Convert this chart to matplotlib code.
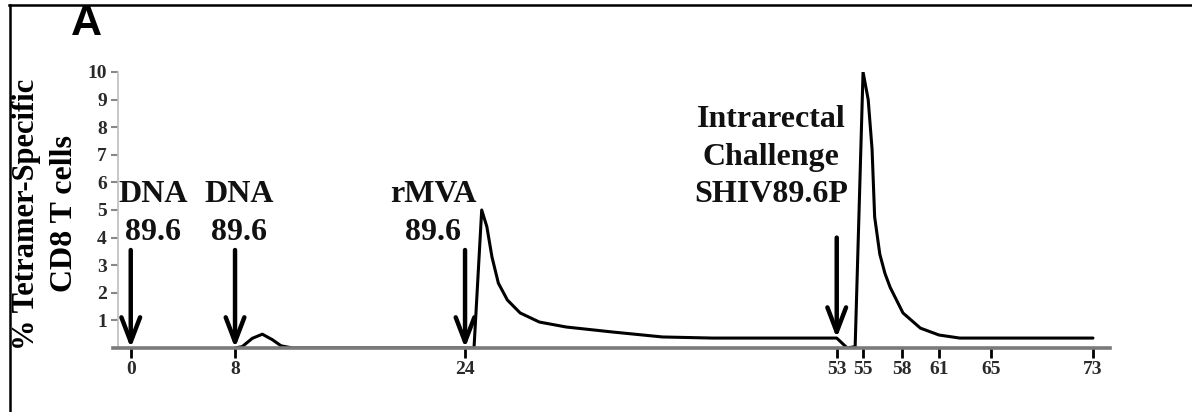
import numpy as np
import matplotlib
matplotlib.use("Agg")
import matplotlib.pyplot as plt
from matplotlib.lines import Line2D

plt.rcParams['font.family'] = ['Liberation Serif', 'DejaVu Serif']
plt.rcParams['font.weight'] = 'bold'

# % tetramer-specific CD8 T cells by week
weeks = [8, 8.5, 9.2, 9.9, 10.6, 11.2, 12, 24, 24.7, 25.0, 25.3, 25.7, 26.1, 26.6,
         27.3, 28.3, 29.8, 31.9, 35.5, 39.4, 43.3, 53, 53.8, 54.4, 54.7, 55, 55.4,
         55.7, 55.9, 56.3, 56.7, 57.1, 58.1, 59.5, 61, 62.6, 73]
tetramer = [0, 0.05, 0.35, 0.5, 0.3, 0.08, 0, 0, 0, 2.5, 5.0, 4.4, 3.3, 2.35,
            1.74, 1.27, 0.94, 0.76, 0.58, 0.40, 0.36, 0.36, 0, 0.05, 5, 10, 9.0,
            7.2, 4.75, 3.4, 2.7, 2.2, 1.27, 0.72, 0.47, 0.36, 0.36]

# immunisations / challenge
event_weeks = [0, 8, 24, 53]
event_labels = ['DNA\n89.6', 'DNA\n89.6', 'rMVA\n89.6', 'Intrarectal\nChallenge\nSHIV89.6P']

xtick_weeks = [0, 8, 24, 53, 55, 58, 61, 65, 73]
ytick_vals = [1, 2, 3, 4, 5, 6, 7, 8, 9, 10]

# hand-drawn time axis: where each labelled week sits along the axis (0..1)
scale_weeks = [-100, 0, 8, 24, 53, 55, 58, 61, 65, 73, 200]
scale_pos = [-1.289, 0.0178, 0.1224, 0.3531, 0.7259, 0.7523, 0.7911, 0.8285,
             0.8804, 0.9829, 2.639]


def fwd(x):
    return np.interp(x, scale_weeks, scale_pos)


def inv(u):
    return np.interp(u, scale_pos, scale_weeks)


fig = plt.figure(figsize=(11.92, 4.12), dpi=100)
ax = fig.add_axes([113 / 1192, 64 / 412, 997 / 1192, 276 / 412])
ax.set_xscale('function', functions=(fwd, inv))
ax.set_xlim(inv(0.0), inv(1.0))
ax.set_ylim(0, 10)

ax.plot(weeks, tetramer, color='black', lw=2.2, zorder=2,
        solid_joinstyle='round', solid_capstyle='round')

# arrows for each event
arrow_top = [3.55, 3.55, 3.55, 4.0]
arrow_tip = [0.0, 0.0, 0.0, 0.36]
for w, y0, y1 in zip(event_weeks, arrow_top, arrow_tip):
    ax.annotate('', xy=(w, y1), xytext=(w, y0),
                arrowprops=dict(arrowstyle='->, head_length=1.1, head_width=0.42',
                                lw=3.2, color='black', mutation_scale=16,
                                shrinkA=0, shrinkB=0),
                annotation_clip=False, zorder=4)

# event labels
label_x = [1.7, 8.3, 21.8, 47.9]
label_y = [4.86, 4.86, 4.86, 6.92]
for lx, ly, txt in zip(label_x, label_y, event_labels):
    ax.text(lx, ly, txt, ha='center', va='center', fontsize=23, linespacing=1.4,
            color='#111111')

# axes styling
for s in ['top', 'right']:
    ax.spines[s].set_visible(False)
ax.spines['bottom'].set_color('#7a7a7a')
ax.spines['bottom'].set_linewidth(2.6)
ax.spines['left'].set_color('#bdbdbd')
ax.spines['left'].set_linewidth(1.2)
ax.spines['left'].set_position(('axes', 0.005))
ax.spines['left'].set_bounds(0, 10)

ax.set_xticks(xtick_weeks)
ax.set_xticklabels([str(w) for w in xtick_weeks])
ax.set_yticks(ytick_vals)
ax.set_yticklabels([str(v) for v in ytick_vals])
ax.tick_params(axis='x', direction='out', length=7, width=2, color='black',
               labelsize=14, labelcolor='#2a2a2a', pad=2)
ax.tick_params(axis='y', direction='out', length=5, width=1.5, color='#888888',
               labelsize=14, labelcolor='#2a2a2a', pad=3)
ax.xaxis.set_minor_locator(matplotlib.ticker.NullLocator())

# y label in two lines
fig.text(27 / 1192, 1 - 214 / 412, '% Tetramer-Specific', rotation=90,
         ha='center', va='center', fontsize=22)
fig.text(64 / 1192, 1 - 213 / 412, 'CD8 T cells', rotation=90,
         ha='center', va='center', fontsize=23)

# panel letter
fig.text(86 / 1192, 1 - 24 / 412, 'A', ha='center', va='center',
         fontsize=31, family='Liberation Sans', weight='bold')

# frame around the panel
fig.add_artist(Line2D([9 / 1192, 1], [1 - 5 / 412, 1 - 5 / 412],
                      transform=fig.transFigure, color='black', lw=1.8))
fig.add_artist(Line2D([10 / 1192, 10 / 1192], [0, 1 - 5 / 412],
                      transform=fig.transFigure, color='black', lw=1.8))

fig.savefig('out.png', dpi=100)
